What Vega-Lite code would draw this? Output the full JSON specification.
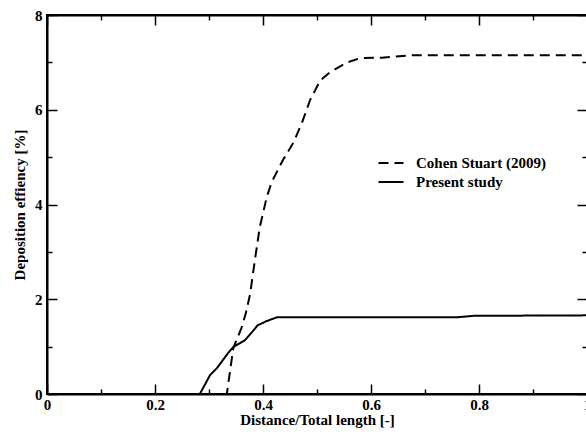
{
  "$schema": "https://vega.github.io/schema/vega-lite/v6.json",
  "width": 540,
  "height": 379,
  "autosize": "none",
  "padding": {"left": 47, "top": 15, "right": 0, "bottom": 41},
  "background": "white",
  "config": {
    "view": {"stroke": "black", "strokeWidth": 2},
    "axis": {
      "grid": false,
      "domainColor": "black",
      "domainWidth": 2,
      "tickColor": "black",
      "tickWidth": 1.5,
      "labelFont": "Liberation Serif",
      "labelFontWeight": "bold",
      "labelFontSize": 15,
      "labelColor": "black",
      "titleFont": "Liberation Serif",
      "titleFontWeight": "bold",
      "titleFontSize": 15,
      "titleColor": "black"
    },
    "legend": {
      "labelFont": "Liberation Serif",
      "labelFontWeight": "bold",
      "labelFontSize": 15,
      "labelColor": "black"
    }
  },
  "data": {
    "values": [
      {"series": "Cohen Stuart (2009)", "x": 0, "y": 0},
      {"series": "Cohen Stuart (2009)", "x": 0.333, "y": 0},
      {"series": "Cohen Stuart (2009)", "x": 0.345, "y": 0.97},
      {"series": "Cohen Stuart (2009)", "x": 0.36, "y": 1.39},
      {"series": "Cohen Stuart (2009)", "x": 0.368, "y": 1.7},
      {"series": "Cohen Stuart (2009)", "x": 0.376, "y": 2.1},
      {"series": "Cohen Stuart (2009)", "x": 0.385, "y": 2.83},
      {"series": "Cohen Stuart (2009)", "x": 0.394, "y": 3.52},
      {"series": "Cohen Stuart (2009)", "x": 0.407, "y": 4.16},
      {"series": "Cohen Stuart (2009)", "x": 0.416, "y": 4.47},
      {"series": "Cohen Stuart (2009)", "x": 0.437, "y": 4.94},
      {"series": "Cohen Stuart (2009)", "x": 0.456, "y": 5.3},
      {"series": "Cohen Stuart (2009)", "x": 0.472, "y": 5.72},
      {"series": "Cohen Stuart (2009)", "x": 0.487, "y": 6.2},
      {"series": "Cohen Stuart (2009)", "x": 0.506, "y": 6.62},
      {"series": "Cohen Stuart (2009)", "x": 0.524, "y": 6.79},
      {"series": "Cohen Stuart (2009)", "x": 0.556, "y": 7.0},
      {"series": "Cohen Stuart (2009)", "x": 0.58, "y": 7.09},
      {"series": "Cohen Stuart (2009)", "x": 0.62, "y": 7.1},
      {"series": "Cohen Stuart (2009)", "x": 0.678, "y": 7.15},
      {"series": "Cohen Stuart (2009)", "x": 1.0, "y": 7.15},
      {"series": "Present study", "x": 0, "y": 0},
      {"series": "Present study", "x": 0.283, "y": 0},
      {"series": "Present study", "x": 0.302, "y": 0.4},
      {"series": "Present study", "x": 0.315, "y": 0.55},
      {"series": "Present study", "x": 0.326, "y": 0.72},
      {"series": "Present study", "x": 0.335, "y": 0.86},
      {"series": "Present study", "x": 0.345, "y": 0.99},
      {"series": "Present study", "x": 0.357, "y": 1.07},
      {"series": "Present study", "x": 0.367, "y": 1.14},
      {"series": "Present study", "x": 0.38, "y": 1.31},
      {"series": "Present study", "x": 0.39, "y": 1.45},
      {"series": "Present study", "x": 0.407, "y": 1.54},
      {"series": "Present study", "x": 0.426, "y": 1.62},
      {"series": "Present study", "x": 0.44, "y": 1.62},
      {"series": "Present study", "x": 0.6, "y": 1.62},
      {"series": "Present study", "x": 0.76, "y": 1.62},
      {"series": "Present study", "x": 0.79, "y": 1.65},
      {"series": "Present study", "x": 1.0, "y": 1.66}
    ]
  },
  "layer": [
    {
      "mark": {"type": "line", "strokeWidth": 2, "color": "black"},
      "encoding": {
        "x": {
          "field": "x", "type": "quantitative",
          "scale": {"domain": [0, 1], "nice": false, "zero": false},
          "axis": {
            "orient": "bottom",
            "title": "Distance/Total length [-]",
            "titlePadding": -5,
            "values": [0, 0.1, 0.2, 0.3, 0.4, 0.5, 0.6, 0.7, 0.8, 0.9, 1.0],
            "labelExpr": "datum.value == 0 ? '0' : (datum.value == 1 ? '1' : (round(datum.value*10) % 2 == 0 ? format(datum.value, '.1f') : ''))",
            "tickSize": {"condition": {"test": "round(datum.value*10) % 2 == 0", "value": -10}, "value": -5},
            "labelPadding": 13,
            "labelFlush": false,
            "labelOverlap": false
          }
        },
        "y": {
          "field": "y", "type": "quantitative",
          "scale": {"domain": [0, 8], "nice": false},
          "axis": {
            "orient": "left",
            "title": "Deposition effiency [%]",
            "titlePadding": 7,
            "values": [0, 1, 2, 3, 4, 5, 6, 7, 8],
            "labelExpr": "round(datum.value) % 2 == 0 ? format(datum.value, 'd') : ''",
            "tickSize": {"condition": {"test": "round(datum.value) % 2 == 0", "value": -10}, "value": -5},
            "labelPadding": 15,
            "labelFlush": false,
            "labelOverlap": false
          }
        },
        "strokeDash": {
          "field": "series", "type": "nominal",
          "scale": {"domain": ["Cohen Stuart (2009)", "Present study"], "range": [[10, 6], [1, 0]]},
          "legend": {
            "title": null,
            "orient": "none",
            "legendX": 333,
            "legendY": 137,
            "symbolType": "M-1.25,0H1.25",
            "symbolSize": 400,
            "symbolStrokeWidth": 2,
            "symbolStrokeColor": "black",
            "labelOffset": 14,
            "rowPadding": 0
          }
        }
      }
    },
    {
      "mark": {"type": "line", "opacity": 0},
      "encoding": {
        "x": {
          "field": "x", "type": "quantitative",
          "scale": {"domain": [0, 1], "nice": false, "zero": false},
          "axis": {
            "orient": "top", "title": null, "labels": false,
            "values": [0, 0.1, 0.2, 0.3, 0.4, 0.5, 0.6, 0.7, 0.8, 0.9, 1.0],
            "tickSize": {"condition": {"test": "round(datum.value*10) % 2 == 0", "value": -10}, "value": -5}
          }
        },
        "y": {
          "field": "y", "type": "quantitative",
          "scale": {"domain": [0, 8], "nice": false},
          "axis": {
            "orient": "right", "title": null, "labels": false,
            "values": [0, 1, 2, 3, 4, 5, 6, 7, 8],
            "tickSize": {"condition": {"test": "round(datum.value) % 2 == 0", "value": -10}, "value": -5}
          }
        },
        "detail": {"field": "series", "type": "nominal"}
      }
    }
  ],
  "resolve": {"axis": {"x": "independent", "y": "independent"}}
}
